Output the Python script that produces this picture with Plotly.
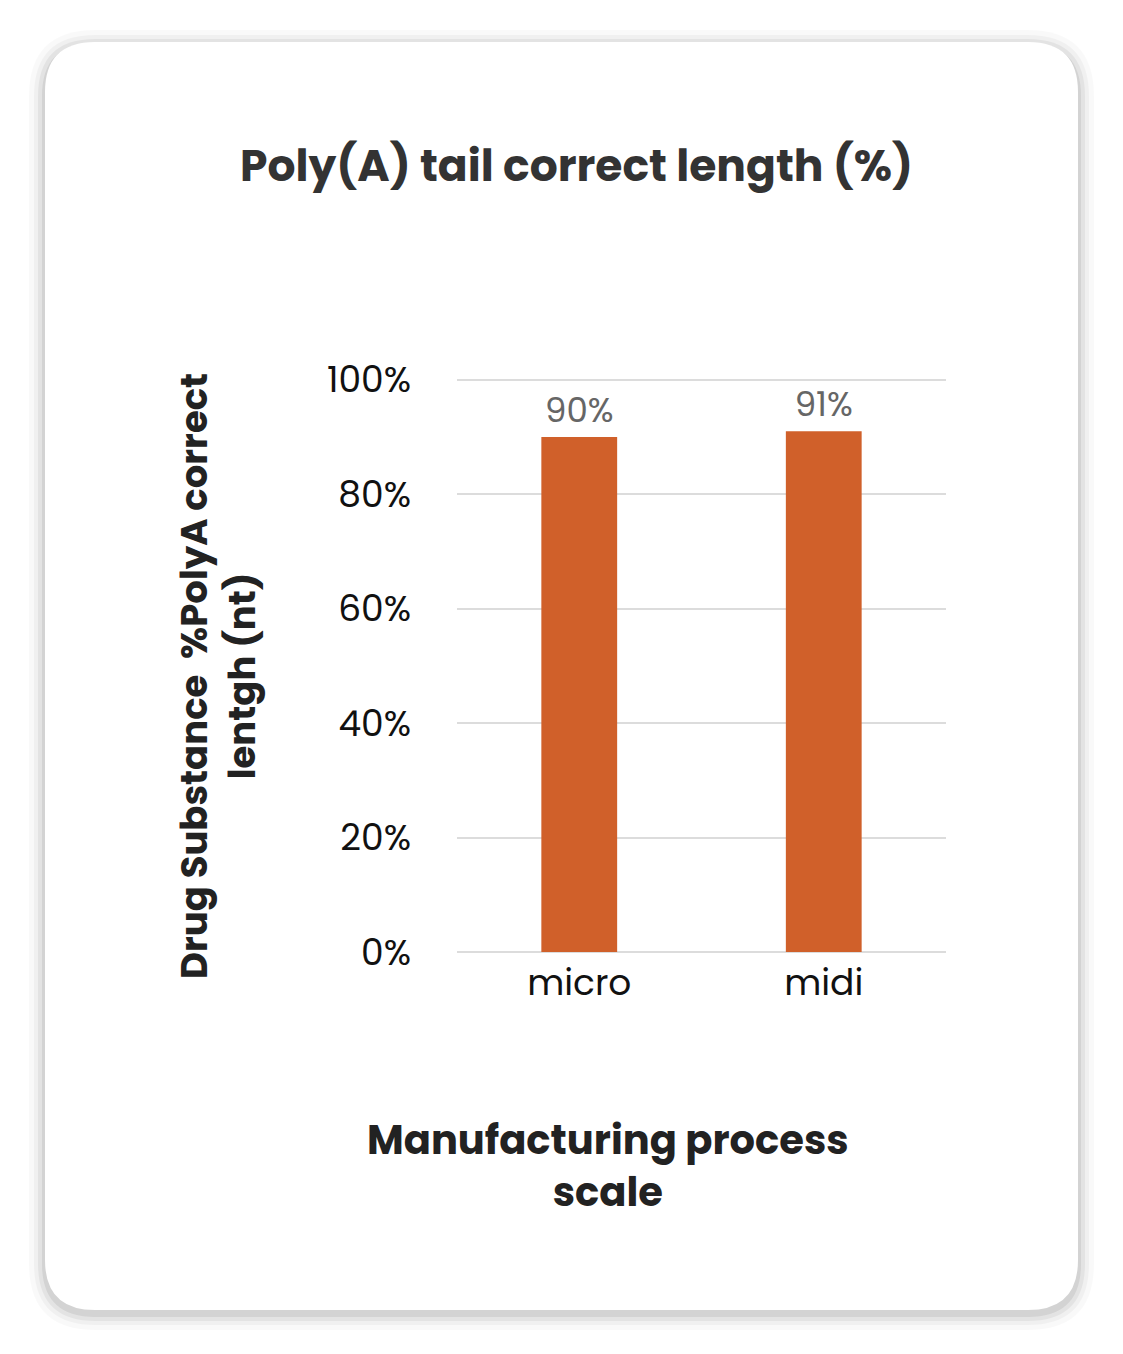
import plotly.graph_objects as go

categories = ["micro", "midi"]
values = [90, 91]
labels = ["90%", "91%"]
tick_vals = [0, 20, 40, 60, 80, 100]
tick_text = ["0%", "20%", "40%", "60%", "80%", "100%"]

W, H = 1123, 1354
FONT = "Poppins, Lato, sans-serif"
OFF = 8  # page offset of the figure

fig = go.Figure(go.Bar(
    x=categories, y=values, text=labels, textposition="outside",
    textfont=dict(size=34, color="#666", family=FONT),
    width=0.31,
    marker=dict(color="#D0602A", line=dict(width=0)),
    cliponaxis=False,
))

l, t = 457 - OFF, 378 - OFF
rr = W - 938 + OFF - 8
b = H - 944 + OFF - 8
pw, ph = W - l - rr, H - t - b
def X(x): return (x - OFF - l) / pw
def Y(y): return (H - b - (y - OFF)) / ph

def paper_path(x0, y0, x1, y1, r):
    rx, ry = r / pw, r / ph
    return (f"M{X(x0)+rx},{Y(y0)} L{X(x1)-rx},{Y(y0)} Q{X(x1)},{Y(y0)} {X(x1)},{Y(y0)-ry} "
            f"L{X(x1)},{Y(y1)+ry} Q{X(x1)},{Y(y1)} {X(x1)-rx},{Y(y1)} L{X(x0)+rx},{Y(y1)} "
            f"Q{X(x0)},{Y(y1)} {X(x0)},{Y(y1)+ry} L{X(x0)},{Y(y0)-ry} Q{X(x0)},{Y(y0)} {X(x0)+rx},{Y(y0)} Z")

shapes = []
for g, op in [(16, 0.025), (11, 0.035), (7, 0.05), (3, 0.07)]:
    shapes.append(dict(type="path", xref="paper", yref="paper", layer="below",
                       path=paper_path(45 - g, 42 - g + 4, 1078 + g, 1310 + g + 4, 50 + g),
                       line=dict(width=0), fillcolor=f"rgba(0,0,0,{op})"))
shapes.append(dict(type="path", xref="paper", yref="paper", layer="below",
                   path=paper_path(45, 42, 1078, 1310, 50),
                   line=dict(width=0), fillcolor="white"))

annotations = [
    dict(text="<b>Poly(A) tail correct length (%)</b>", x=X(576), y=Y(165), xref="paper", yref="paper",
         xanchor="center", yanchor="middle",
         showarrow=False, font=dict(size=44, color="#333", family=FONT)),
    dict(text="<b>Drug Substance  %PolyA correct<br>lentgh (nt)</b>", x=X(218), y=Y(676),
         xref="paper", yref="paper", xanchor="center", yanchor="middle", showarrow=False, textangle=-90,
         font=dict(size=37, color="#222", family=FONT)),
    dict(text="<b>Manufacturing process<br>scale</b>", x=X(608), y=Y(1166), xref="paper", yref="paper",
         xanchor="center", yanchor="middle",
         showarrow=False, font=dict(size=40, color="#222", family=FONT)),
]

fig.update_layout(
    width=W, height=H, paper_bgcolor="white", plot_bgcolor="rgba(0,0,0,0)",
    margin=dict(l=l, r=rr, t=t, b=b), showlegend=False,
    shapes=shapes, annotations=annotations,
    font=dict(family=FONT),
    xaxis=dict(showline=False, tickfont=dict(size=36, color="#111", family=FONT), ticks="",
               ticklabelstandoff=6),
    yaxis=dict(range=[0, 100.3], tickvals=tick_vals, ticktext=tick_text, showgrid=True,
               gridcolor="#dcdcdc", gridwidth=2, zeroline=True, zerolinecolor="#dcdcdc", zerolinewidth=2,
               tickfont=dict(size=36, color="#111", family=FONT), ticklabelstandoff=45),
)
fig.write_html("out.html")
